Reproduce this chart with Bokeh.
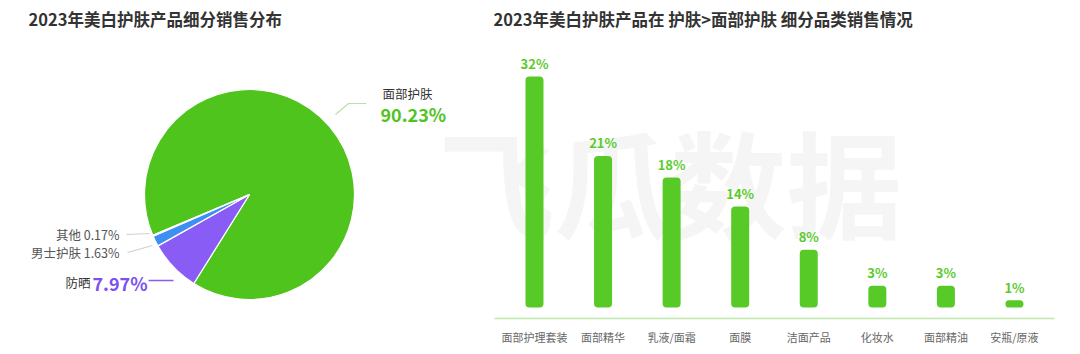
import math
from bokeh.plotting import figure
from bokeh.models import Range1d, LinearAxis, FixedTicker
from bokeh.core.properties import value
from bokeh.embed import file_html
from bokeh.resources import INLINE

# ---------------- data ----------------
pie_names = ["面部护肤", "防晒", "男士护肤", "其他"]
pie_values = [90.23, 7.97, 1.63, 0.17]
pie_colors = ["#4ec41d", "#8a5cf6", "#3f8ff2", "#57b7f5"]

bar_cats = ["面部护理套装", "面部精华", "乳液/面霜", "面膜", "洁面产品", "化妆水", "面部精油", "安瓶/原液"]
bar_values = [32, 21, 18, 14, 8, 3, 3, 1]

left_title = "2023年美白护肤产品细分销售分布"
right_title = "2023年美白护肤产品在 护肤>面部护肤 细分品类销售情况"
watermark = "飞瓜数据"

# ---------------- layout ----------------
W, H = 1080, 354
BOTTOM = 36
FONT = "Noto Sans CJK SC"
F = value(FONT)

p = figure(width=W, height=H, output_backend="svg", toolbar_location=None,
           x_range=Range1d(0, W), y_range=Range1d(BOTTOM, H),
           x_axis_location=None, y_axis_location=None,
           min_border_left=0, min_border_right=0, min_border_top=0,
           min_border_bottom=BOTTOM)
p.outline_line_color = None
p.background_fill_color = "white"
p.border_fill_color = "white"
p.xgrid.visible = False
p.ygrid.visible = False

def sy(y_screen):
    return H - y_screen

# bar chart ranges (category slot = 1 unit)
unit = 68.57
x_zero = 499.7
k = 7.22
base_screen = 307
frame_bottom = H - BOTTOM
p.extra_x_ranges = {"bx": Range1d(-x_zero / unit, (W - x_zero) / unit)}
p.extra_y_ranges = {"by": Range1d(-(frame_bottom - base_screen) / k, base_screen / k)}

# watermark
p.text(x=[438], y=[sy(178)], text=[watermark], text_font=F, text_font_style="bold",
       text_font_size="116px", text_color="#f5f5f5", text_align="left",
       text_baseline="middle")

# titles
for tx, t in [(28, left_title), (493, right_title)]:
    p.text(x=[tx], y=[sy(18.5)], text=[t], text_font=F, text_font_style="bold",
           text_font_size="16.5px", text_color="#333333", text_align="left",
           text_baseline="middle")

# ---------------- pie ----------------
cx, cy, r = 249, sy(194), 105
a = math.radians(202.8)
for v, c in zip(pie_values, pie_colors):
    a1 = a - v / 100 * 2 * math.pi
    p.wedge(x=[cx], y=[cy], radius=r, start_angle=a1, end_angle=a,
            direction="anticlock", fill_color=c, line_color="white", line_width=1.2)
    a = a1

# leader lines
p.line(x=[335, 348, 366], y=[sy(114), sy(103), sy(103)], line_color="#b8e3a4", line_width=1.2)
p.line(x=[126, 149], y=[sy(234), sy(233)], line_color="#cfcfcf", line_width=1.2)
p.line(x=[127, 152], y=[sy(252), sy(245)], line_color="#cfcfcf", line_width=1.2)
p.line(x=[148, 173], y=[sy(280), sy(280)], line_color="#8a5cf6", line_width=1.5)

# pie labels
p.text(x=[382], y=[sy(93)], text=[pie_names[0]], text_font=F, text_font_size="12.5px",
       text_color="#333333", text_align="left", text_baseline="middle")
p.text(x=[380], y=[sy(113)], text=[f"{pie_values[0]:.2f}%"], text_font=F,
       text_font_style="bold", text_font_size="18px", text_color="#4ec41d",
       text_align="left", text_baseline="middle")
p.text(x=[119], y=[sy(234)], text=[f"{pie_names[3]} {pie_values[3]:.2f}%"], text_font=F,
       text_font_size="12.5px", text_color="#555555", text_align="right", text_baseline="middle")
p.text(x=[119], y=[sy(252)], text=[f"{pie_names[2]} {pie_values[2]:.2f}%"], text_font=F,
       text_font_size="12.5px", text_color="#555555", text_align="right", text_baseline="middle")
p.text(x=[65], y=[sy(282)], text=[pie_names[1]], text_font=F, text_font_size="12.5px",
       text_color="#333333", text_align="left", text_baseline="middle")
p.text(x=[92], y=[sy(282)], text=[f"{pie_values[1]:.2f}%"], text_font=F,
       text_font_style="bold", text_font_size="18px", text_color="#7d50f0",
       text_align="left", text_baseline="middle")

# ---------------- bars ----------------
xs = [i + 0.5 for i in range(len(bar_cats))]
p.vbar(x=xs, top=bar_values, bottom=0, width=18 / unit, fill_color="#58ca27",
       line_color=None, border_radius=4, x_range_name="bx", y_range_name="by")
p.text(x=xs, y=[v + 13 / k for v in bar_values], text=[f"{v}%" for v in bar_values],
       text_font=F, text_font_style="bold", text_font_size="13px",
       text_color="#5bcb2b", text_align="center", text_baseline="middle",
       x_range_name="bx", y_range_name="by")

ax = LinearAxis(x_range_name="bx", ticker=FixedTicker(ticks=xs),
                major_label_overrides={x: c for x, c in zip(xs, bar_cats)},
                bounds=(-0.083, len(bar_cats) + 0.08))
ax.axis_line_color = "#bfe8ac"
ax.axis_line_width = 1.5
ax.major_tick_line_color = None
ax.minor_tick_line_color = None
ax.major_label_standoff = 4
ax.major_label_text_font = FONT
ax.major_label_text_font_size = "11px"
ax.major_label_text_color = "#666666"
p.add_layout(ax, "below")

open("out.html", "w").write(file_html(p, INLINE))
